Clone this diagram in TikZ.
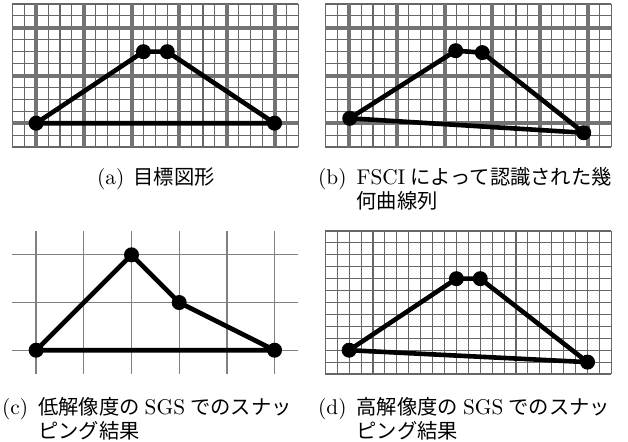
\documentclass[tikz,border=0pt]{standalone}
\usepackage{fontspec}
\setmainfont{lmroman10-regular.otf}
\newfontfamily\jpfont{Noto Sans CJK JP}
\newcommand\jtext[1]{{\jpfont\fontsize{20.3}{23.2}\selectfont #1}}
\begin{document}
\begin{tikzpicture}[x=1pt,y=-1pt,
  finegrid/.style={draw=black!60,line width=1.1pt},
  majorgrid/.style={draw=black!55,line width=4pt},
  coarsegrid/.style={draw=black!50,line width=1.3pt},
  outline/.style={draw=black,line width=4.6pt,line join=round},
  vertex/.style={circle,fill=black,minimum size=15pt,inner sep=0pt},
  captext/.style={anchor=base west,inner sep=0pt,font=\fontsize{21.3}{23.2}\selectfont}]
\useasboundingbox (0,0) rectangle (628,441);
% (a) target figure
\begin{scope}[shift={(12.3pt,-4pt)},x=11.92pt,y=-11.92pt]
  \foreach \i in {0,...,24} \draw[finegrid] (\i,0) -- (\i,12);
  \foreach \j in {0,...,12} \draw[finegrid] (0,\j) -- (24,\j);
  \foreach \i in {2,6,...,22} \draw[majorgrid] (\i,0) -- (\i,12);
  \foreach \j in {2,6,10} \draw[majorgrid] (0,\j) -- (24,\j);
  \node[vertex] (a1) at (2,10) {};
  \node[vertex] (a2) at (11,4) {};
  \node[vertex] (a3) at (13,4) {};
  \node[vertex] (a4) at (22,10) {};
  \draw[outline] (a1.center) -- (a2.center) -- (a3.center) -- (a4.center) -- cycle;
\end{scope}
% (b) FSCI
\begin{scope}[shift={(325.3pt,-4pt)},x=11.92pt,y=-11.92pt]
  \foreach \i in {0,...,24} \draw[finegrid] (\i,0) -- (\i,12);
  \foreach \j in {0,...,12} \draw[finegrid] (0,\j) -- (24,\j);
  \foreach \i in {2,6,...,22} \draw[majorgrid] (\i,0) -- (\i,12);
  \foreach \j in {2,6,10} \draw[majorgrid] (0,\j) -- (24,\j);
  \node[vertex] (b1) at (2.05,9.59) {};
  \node[vertex] (b2) at (10.94,3.92) {};
  \node[vertex] (b3) at (13.17,4.08) {};
  \node[vertex] (b4) at (21.68,10.8) {};
  \draw[outline] (b1.center) -- (b2.center) -- (b3.center) -- (b4.center) -- cycle;
\end{scope}
% (c) low resolution SGS
\begin{scope}[shift={(12.3pt,-231pt)},x=11.92pt,y=-11.92pt]
  \foreach \i in {2,6,...,22} \draw[coarsegrid] (\i,0) -- (\i,12);
  \foreach \j in {2,6,10} \draw[coarsegrid] (0,\j) -- (24,\j);
  \node[vertex] (c1) at (2,10) {};
  \node[vertex] (c2) at (10,2) {};
  \node[vertex] (c3) at (14,6) {};
  \node[vertex] (c4) at (22,10) {};
  \draw[outline] (c1.center) -- (c2.center) -- (c3.center) -- (c4.center) -- cycle;
\end{scope}
% (d) high resolution SGS
\begin{scope}[shift={(325.3pt,-231pt)},x=11.92pt,y=-11.92pt]
  \foreach \i in {0,...,24} \draw[finegrid] (\i,0) -- (\i,12);
  \foreach \j in {0,...,12} \draw[finegrid] (0,\j) -- (24,\j);
  \node[vertex] (d1) at (2,10) {};
  \node[vertex] (d2) at (11,4) {};
  \node[vertex] (d3) at (13,4) {};
  \node[vertex] (d4) at (22,11) {};
  \draw[outline] (d1.center) -- (d2.center) -- (d3.center) -- (d4.center) -- cycle;
\end{scope}
% captions
\node[captext] (capa) at (97,184) {(a)\hspace{9pt}\jtext{目標図形}};
\node[captext] (capb) at (318,184) {(b)\hspace{10pt}\begin{tabular}[t]{@{}l@{}}FSCI\hspace{5pt}\jtext{によって認識された幾}\\\jtext{何曲線列}\end{tabular}};
\node[captext] (capc) at (2,414.5) {(c)\hspace{10pt}\begin{tabular}[t]{@{}l@{}}\jtext{低解像度の}\hspace{5pt}SGS\hspace{5pt}\jtext{でのスナッ}\\\jtext{ピング結果}\end{tabular}};
\node[captext] (capd) at (318,414.5) {(d)\hspace{10pt}\begin{tabular}[t]{@{}l@{}}\jtext{高解像度の}\hspace{5pt}SGS\hspace{5pt}\jtext{でのスナッ}\\\jtext{ピング結果}\end{tabular}};
\end{tikzpicture}
\end{document}
